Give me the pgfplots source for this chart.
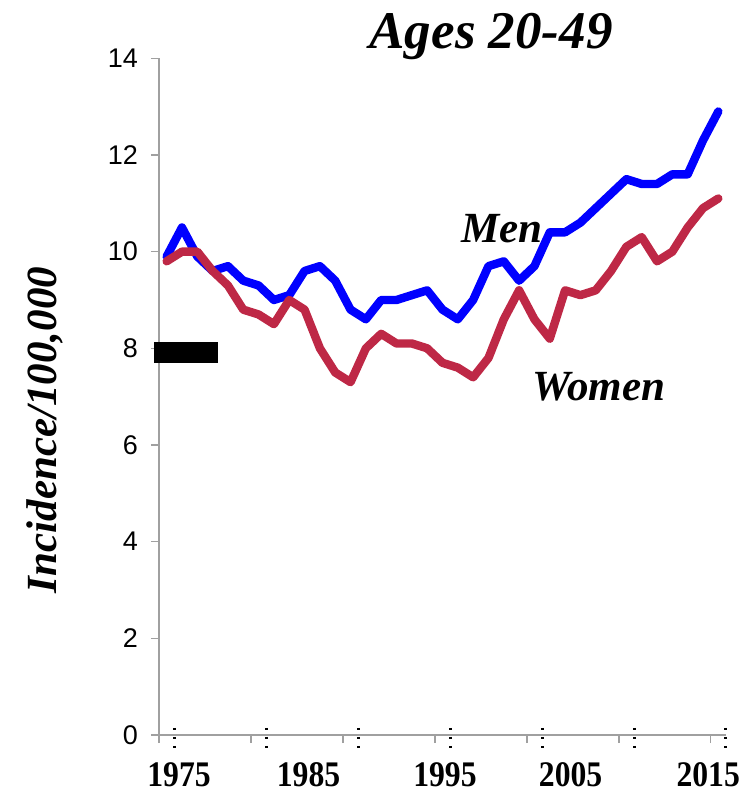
\documentclass[border=0pt]{standalone}
\usepackage{fontspec}
\setmainfont{Liberation Serif}
\newfontfamily\arialf{Liberation Sans}
\usepackage{pgfplots}
\pgfplotsset{compat=1.18}
\definecolor{menblue}{RGB}{0,0,255}
\definecolor{womenred}{RGB}{190,40,70}
\definecolor{axgray}{RGB}{160,160,160}
\begin{document}
\begin{tikzpicture}
\useasboundingbox (-79.5pt,-29.5pt) rectangle (296.5pt,367.5pt);
\begin{axis}[
 at={(0,0)}, anchor=south west,
 scale only axis, width=283.5pt, height=338.35pt,
 xmin=-0.5, xmax=36.5, ymin=0, ymax=14,
 axis x line=bottom, axis y line=left,
 axis line style={axgray, line width=0.8pt, -},
 xtick={-0.5,5.5,11.5,17.5,23.5,29.5,35.5}, xticklabels={},
 ytick={0,2,4,6,8,10,12,14},
 tick align=outside,
 major tick length=4pt,
 tick style={axgray, line width=0.8pt},
 yticklabel style={font=\arialf\fontsize{13.5}{15}\selectfont, xshift=-3pt, /pgf/number format/assume math mode=true},
 clip=false,
]
\addplot[menblue, line width=4.2pt, line join=round, line cap=round] coordinates {
(0,9.9) (1,10.5) (2,9.9) (3,9.6) (4,9.7) (5,9.4) (6,9.3) (7,9.0) (8,9.1) (9,9.6)
(10,9.7) (11,9.4) (12,8.8) (13,8.6) (14,9.0) (15,9.0) (16,9.1) (17,9.2) (18,8.8) (19,8.6)
(20,9.0) (21,9.7) (22,9.8) (23,9.4) (24,9.7) (25,10.4) (26,10.4) (27,10.6) (28,10.9) (29,11.2)
(30,11.5) (31,11.4) (32,11.4) (33,11.6) (34,11.6) (35,12.3) (36,12.9)
};
\addplot[womenred, line width=4.2pt, line join=round, line cap=round] coordinates {
(0,9.8) (1,10.0) (2,10.0) (3,9.6) (4,9.3) (5,8.8) (6,8.7) (7,8.5) (8,9.0) (9,8.8)
(10,8.0) (11,7.5) (12,7.3) (13,8.0) (14,8.3) (15,8.1) (16,8.1) (17,8.0) (18,7.7) (19,7.6)
(20,7.4) (21,7.8) (22,8.6) (23,9.2) (24,8.6) (25,8.2) (26,9.2) (27,9.1) (28,9.2) (29,9.6)
(30,10.1) (31,10.3) (32,9.8) (33,10.0) (34,10.5) (35,10.9) (36,11.1)
};
\pgfplotsinvokeforeach{0.5,6.5,12.5,18.5,24.5,30.5,36.5}{
 \draw[black, line width=1.5pt, dash pattern=on 1.2pt off 3.3pt] (axis cs:#1,0) ++(0pt,3.6pt) -- ++(0pt,-10.2pt);
}
\fill[black] (axis cs:-0.83,7.70) rectangle (axis cs:3.35,8.13);
\node[font=\bfseries\itshape\fontsize{26.5}{30}\selectfont, anchor=base] at (axis cs:21.17,14.21) {Ages 20-49};
\node[font=\bfseries\itshape\fontsize{21.5}{24}\selectfont, anchor=base] at (axis cs:21.9,10.18) {Men};
\node[font=\bfseries\itshape\fontsize{21.5}{24}\selectfont, anchor=base] at (axis cs:28.19,6.93) {Women};
\node[font=\bfseries\itshape\fontsize{21.5}{24}\selectfont, rotate=90] at (axis cs:-7.95,6.31) {Incidence/100,000};
\node[font=\bfseries\fontsize{18}{20}\selectfont, xscale=0.88, anchor=base, inner sep=0pt] at (axis cs:0.81,-1.075) {1975};
\node[font=\bfseries\fontsize{18}{20}\selectfont, xscale=0.88, anchor=base, inner sep=0pt] at (axis cs:9.26,-1.075) {1985};
\node[font=\bfseries\fontsize{18}{20}\selectfont, xscale=0.88, anchor=base, inner sep=0pt] at (axis cs:18.16,-1.075) {1995};
\node[font=\bfseries\fontsize{18}{20}\selectfont, xscale=0.88, anchor=base, inner sep=0pt] at (axis cs:26.36,-1.075) {2005};
\node[font=\bfseries\fontsize{18}{20}\selectfont, xscale=0.88, anchor=base, inner sep=0pt] at (axis cs:35.34,-1.075) {2015};
\end{axis}
\end{tikzpicture}
\end{document}
